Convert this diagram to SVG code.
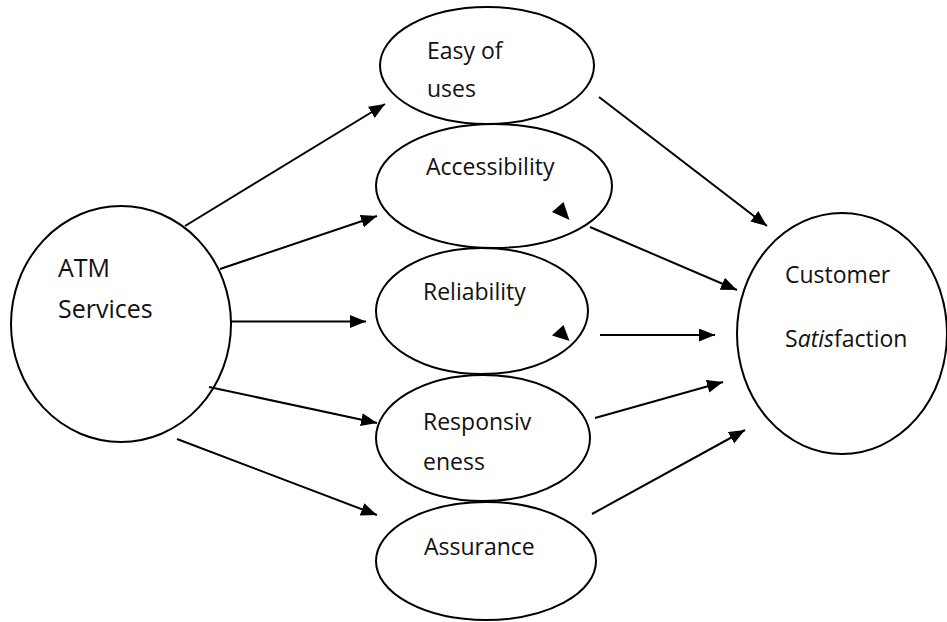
<svg xmlns="http://www.w3.org/2000/svg" width="947" height="622" viewBox="0 0 947 622">
<style>
.n{fill:#fff;stroke:#000;stroke-width:2}
.t{font-family:"Open Sans","Noto Sans",sans-serif;font-size:23px;fill:#111}
.c line{stroke:#000;stroke-width:2;marker-end:url(#ah)}
</style>
<defs>
<marker id="ah" markerUnits="userSpaceOnUse" markerWidth="18" markerHeight="14" refX="16" refY="6.5" orient="auto">
<path d="M0,0 L16,6.5 L0,13 z" fill="#000"/>
</marker>
</defs>
<rect width="947" height="622" fill="#fff"/>
<g id="atm"><ellipse class="n" cx="121" cy="324" rx="110" ry="118"/>
<text class="t" style="font-size:25px" x="58" y="277">ATM</text><text class="t" style="font-size:25px" x="58" y="318">Services</text></g>
<g id="easy"><ellipse class="n" cx="487" cy="65.5" rx="107" ry="58.5"/>
<text class="t" x="427" y="59">Easy of</text><text class="t" x="427" y="97">uses</text></g>
<g id="access"><ellipse class="n" cx="494" cy="186" rx="118" ry="62"/>
<text class="t" x="426" y="175">Accessibility</text></g>
<g id="reliab"><ellipse class="n" cx="482" cy="311" rx="106" ry="63"/>
<text class="t" x="423" y="300">Reliability</text></g>
<g id="respons"><ellipse class="n" cx="483" cy="438" rx="107" ry="63"/>
<text class="t" x="423" y="430">Responsiv</text><text class="t" x="423" y="470">eness</text></g>
<g id="assur"><ellipse class="n" cx="486" cy="561" rx="110" ry="59"/>
<text class="t" x="424" y="555">Assurance</text></g>
<g id="cust"><ellipse class="n" cx="842" cy="333.5" rx="105" ry="120.5"/>
<text class="t" x="785" y="283">Customer</text>
<text class="t" x="785" y="347">S<tspan font-style="italic">atis</tspan>faction</text></g>
<g id="stray">
<polygon points="552,212 563.5,202 569.5,220" fill="#000"/>
<polygon points="552,335.5 563.5,325 569.5,341" fill="#000"/>
</g>
<g class="c" id="connectors">
<line x1="185" y1="226" x2="385" y2="104"/>
<line x1="220" y1="269" x2="377" y2="216"/>
<line x1="231" y1="321.5" x2="366" y2="321.5"/>
<line x1="209" y1="387" x2="377" y2="423"/>
<line x1="177" y1="439" x2="377" y2="515"/>
<line x1="599" y1="97" x2="767" y2="226"/>
<line x1="590" y1="227" x2="737" y2="290"/>
<line x1="600" y1="335" x2="715" y2="335"/>
<line x1="595" y1="418" x2="723" y2="382"/>
<line x1="592" y1="514" x2="745" y2="430"/>
</g>
</svg>
